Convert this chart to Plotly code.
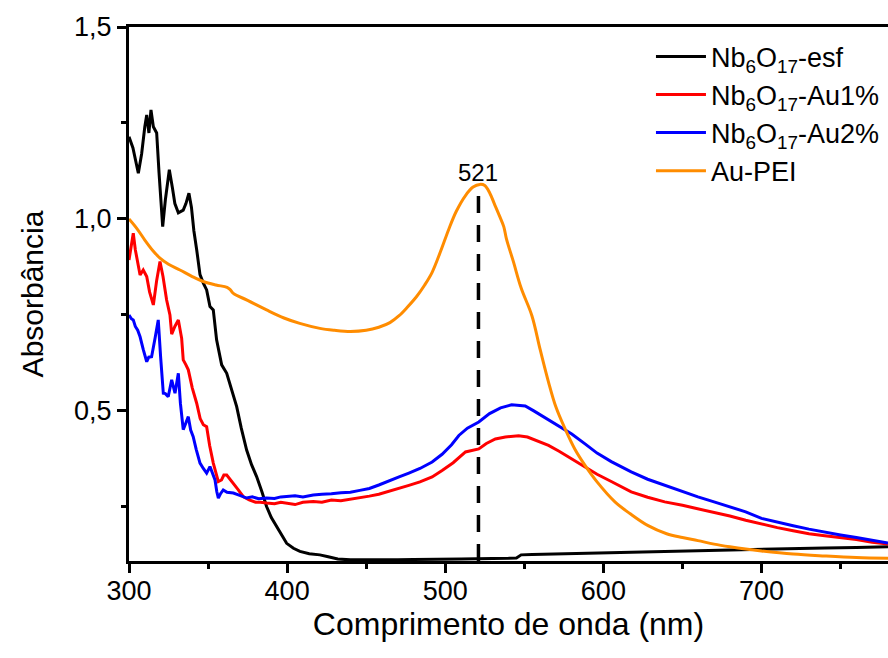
import plotly.graph_objects as go

# ---------------- data ----------------
wl_esf = [300, 302.5, 305.9, 308, 310, 311.2, 312.6, 313.9, 315.4, 317.5, 319, 321.3, 323,
          325.5, 327.5, 329, 331.2, 334.3, 336, 337.9, 339.5, 341, 342.8, 344.9, 347, 349.1,
          351.2, 353.3, 355.4, 358.6, 361.8, 365, 368.1, 371, 374.4, 377.5, 380.7, 384, 387,
          390, 393.4, 396.5, 399.7, 404, 408.1, 414, 420.7, 426, 432, 440, 450, 460, 470, 480,
          490, 500, 510, 520, 530, 540, 545, 548, 555, 565, 580, 600, 620, 640, 660, 680, 700,
          720, 740, 760, 780]
abs_esf = [1.214, 1.185, 1.119, 1.17, 1.24, 1.271, 1.224, 1.284, 1.24, 1.224, 1.12, 0.98, 1.05,
           1.128, 1.08, 1.04, 1.016, 1.023, 1.04, 1.067, 1.03, 0.97, 0.92, 0.855, 0.833, 0.815,
           0.772, 0.763, 0.685, 0.62, 0.598, 0.555, 0.511, 0.455, 0.398, 0.36, 0.329, 0.29, 0.251,
           0.222, 0.199, 0.175, 0.155, 0.142, 0.134, 0.128, 0.125, 0.12, 0.114, 0.112, 0.112,
           0.111, 0.112, 0.113, 0.113, 0.114, 0.114, 0.115, 0.115, 0.116, 0.117, 0.125, 0.126,
           0.127, 0.129, 0.131, 0.133, 0.135, 0.137, 0.138, 0.14, 0.142, 0.143, 0.144, 0.146]

wl_au1 = [300, 301.5, 302.7, 304, 305.9, 307, 309, 311.2, 313, 315.4, 317.5, 319.6, 321.5, 323.8,
          325.9, 327, 329, 331.2, 333.3, 334.3, 336, 337.5, 340, 342.8, 345, 347, 349.1, 351,
          353.3, 355, 356.5, 358.5, 360, 361.8, 364, 366, 369, 372.2, 376, 380, 383, 387, 392,
          396, 399.7, 405, 410, 416.5, 422, 428, 434, 440, 446, 452, 458, 464, 470.8, 477, 484,
          491.7, 498, 505, 512.8, 521.2, 526, 531.7, 538, 546.4, 552, 558, 565.3, 572, 580,
          588.4, 596, 605, 617.6, 628, 638.8, 650, 659.8, 670, 680, 690, 700, 710, 720, 730,
          740, 750, 760, 770, 780]
abs_au1 = [0.893, 0.94, 0.963, 0.92, 0.876, 0.854, 0.867, 0.85, 0.81, 0.776, 0.84, 0.889, 0.85,
           0.789, 0.75, 0.7, 0.72, 0.737, 0.689, 0.633, 0.62, 0.607, 0.56, 0.52, 0.48, 0.464,
           0.459, 0.41, 0.364, 0.335, 0.316, 0.32, 0.333, 0.333, 0.322, 0.312, 0.295, 0.277,
           0.268, 0.262, 0.262, 0.26, 0.258, 0.262, 0.26, 0.256, 0.262, 0.264, 0.262, 0.268,
           0.266, 0.27, 0.273, 0.278, 0.283, 0.29, 0.297, 0.306, 0.315, 0.328, 0.345, 0.365,
           0.393, 0.401, 0.415, 0.427, 0.432, 0.435, 0.432, 0.423, 0.41, 0.395, 0.375, 0.354,
           0.335, 0.316, 0.289, 0.275, 0.263, 0.254, 0.245, 0.235, 0.226, 0.215, 0.205, 0.196,
           0.188, 0.18, 0.175, 0.17, 0.165, 0.158, 0.153]

wl_au2 = [300, 301.5, 302.7, 304, 305.5, 307, 309, 311.2, 312.5, 314.3, 316.5, 318.5, 320, 321.7,
          323, 324.8, 327, 329.1, 331.2, 332.5, 334.3, 336, 337.5, 339, 340.6, 342.5, 344.9, 347,
          349.1, 351.2, 353, 354.4, 355.5, 356.5, 358, 359.6, 362, 366, 370, 374.4, 378, 382,
          387, 392, 396, 399.7, 405, 410, 416.5, 422, 428, 434, 440, 446, 452, 458, 464, 470.8,
          477, 484, 491.7, 498, 504, 508.6, 514, 521.2, 528, 535, 542, 546, 550.6, 556, 562,
          571.6, 580, 588.4, 596, 605, 617.6, 628, 638.8, 650, 659.8, 670, 680, 690, 700, 710,
          720, 730, 740, 750, 760, 770, 780]
abs_au2 = [0.75, 0.74, 0.737, 0.72, 0.71, 0.693, 0.66, 0.628, 0.64, 0.641, 0.69, 0.737, 0.64,
           0.546, 0.545, 0.537, 0.581, 0.546, 0.598, 0.52, 0.451, 0.47, 0.485, 0.45, 0.433, 0.4,
           0.364, 0.35, 0.338, 0.355, 0.335, 0.32, 0.29, 0.273, 0.285, 0.294, 0.288, 0.286,
           0.28, 0.273, 0.276, 0.271, 0.273, 0.272, 0.276, 0.277, 0.279, 0.276, 0.281, 0.283,
           0.284, 0.287, 0.288, 0.293, 0.298, 0.307, 0.316, 0.328, 0.338, 0.35, 0.367, 0.387,
           0.412, 0.436, 0.455, 0.471, 0.493, 0.508, 0.516, 0.515, 0.513, 0.5, 0.485, 0.462,
           0.44, 0.414, 0.39, 0.368, 0.341, 0.322, 0.306, 0.29, 0.276, 0.263, 0.25, 0.237, 0.22,
           0.21, 0.201, 0.192, 0.184, 0.177, 0.17, 0.163, 0.156]

wl_pei = [300, 305, 310, 315, 319.6, 325, 332.2, 340, 347, 355, 362, 364, 366, 375, 387, 398,
          408, 420.7, 430, 440, 450, 458, 465, 470.8, 476, 481.9, 487, 491.7, 497, 502.3, 507,
          512.8, 517.6, 521.9, 525, 528.2, 531, 534.5, 537, 538.7, 543, 548, 554.8, 560, 565.3,
          570, 575.8, 582, 588.4, 596, 607.3, 617, 628.3, 640, 650, 659.8, 670, 680, 690, 700,
          720, 740, 760, 780]
abs_pei = [1.0, 0.975, 0.945, 0.918, 0.898, 0.882, 0.867, 0.85, 0.837, 0.828, 0.822, 0.816,
           0.806, 0.788, 0.763, 0.742, 0.728, 0.715, 0.71, 0.707, 0.71, 0.718, 0.73, 0.748,
           0.77, 0.798, 0.828, 0.861, 0.915, 0.974, 1.02, 1.061, 1.083, 1.09, 1.087, 1.067,
           1.04, 1.006, 0.98, 0.948, 0.89, 0.82, 0.748, 0.66, 0.575, 0.51, 0.453, 0.4, 0.358,
           0.315, 0.263, 0.232, 0.201, 0.18, 0.17, 0.162, 0.153, 0.146, 0.14, 0.135, 0.127,
           0.122, 0.118, 0.116]

peak_wl = 521
peak_abs = 1.088
peak_label = "521"
peak_label_y = 1.122

series_names = ["Nb<sub>6</sub>O<sub>17</sub>-esf", "Nb<sub>6</sub>O<sub>17</sub>-Au1%",
                "Nb<sub>6</sub>O<sub>17</sub>-Au2%", "Au-PEI"]
series_colors = ["#000000", "#ff0000", "#0000ff", "#ff8c00"]
series_shapes = ["linear", "linear", "linear", "spline"]

x_range = [300, 780]
y_range = [0.109, 1.5]
x_title = "Comprimento de onda (nm)"
y_title = "Absorbância"

FONT = "Liberation Sans, Arial, sans-serif"

fig = go.Figure()
for wl, ab, name, col, shp in zip([wl_esf, wl_au1, wl_au2, wl_pei],
                                  [abs_esf, abs_au1, abs_au2, abs_pei],
                                  series_names, series_colors, series_shapes):
    fig.add_trace(go.Scatter(x=wl, y=ab, mode="lines", name=name,
                             line=dict(color=col, width=3, shape=shp)))

fig.add_trace(go.Scatter(x=[peak_wl, peak_wl], y=[y_range[0], peak_abs], mode="lines",
                         line=dict(color="black", width=3.5, dash="17px,12px"),
                         showlegend=False, hoverinfo="skip"))

fig.add_annotation(x=peak_wl, y=peak_label_y, text=peak_label, showarrow=False,
                   xanchor="center", yanchor="middle",
                   font=dict(family=FONT, size=24, color="black"))

fig.update_layout(
    width=888, height=658,
    margin=dict(l=129, r=0, t=27, b=97),
    paper_bgcolor="white", plot_bgcolor="white",
    separators=",.",
    font=dict(family=FONT, color="black"),
    showlegend=True,
    legend=dict(x=0.6877, y=0.99, xanchor="left", yanchor="top",
                bgcolor="rgba(0,0,0,0)", font=dict(family=FONT, size=27, color="black"),
                tracegroupgap=0, itemwidth=50),
    xaxis=dict(range=x_range, showgrid=False, zeroline=False,
               showline=True, linecolor="black", linewidth=3, mirror=True,
               ticks="outside", ticklen=9, tickwidth=3, tickcolor="black",
               dtick=100, tick0=0, tickformat="d", ticklabelstandoff=-5,
               minor=dict(dtick=50, tick0=0, ticks="outside", ticklen=5, tickwidth=3,
                          tickcolor="black", showgrid=False),
               tickfont=dict(family=FONT, size=27, color="black"),
               title=dict(text=x_title, font=dict(family=FONT, size=32, color="black"),
                          standoff=8)),
    yaxis=dict(range=y_range, showgrid=False, zeroline=False,
               showline=True, linecolor="black", linewidth=3,
               ticks="outside", ticklen=9, tickwidth=3, tickcolor="black",
               dtick=0.5, tick0=0, tickformat=".1f",
               minor=dict(dtick=0.25, tick0=0, ticks="outside", ticklen=5, tickwidth=3,
                          tickcolor="black", showgrid=False),
               tickfont=dict(family=FONT, size=27, color="black"),
               title=dict(text=y_title, font=dict(family=FONT, size=30, color="black"),
                          standoff=22)),
)

fig.write_html("out.html")
